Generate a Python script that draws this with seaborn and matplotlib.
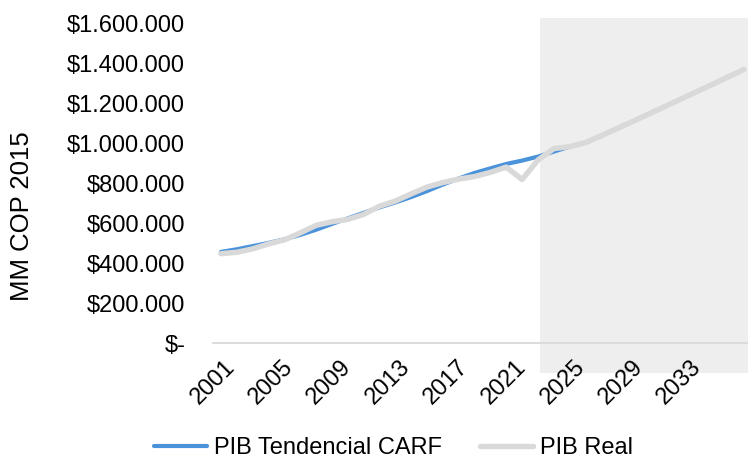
import matplotlib
matplotlib.use("Agg")
import matplotlib.pyplot as plt
import matplotlib.transforms as mtransforms
from matplotlib.patches import Rectangle
from matplotlib.ticker import FuncFormatter
from matplotlib.lines import Line2D
import seaborn as sns
import pandas as pd

years = list(range(2001, 2035))
pib_tendencial = [457, 470, 486, 502, 520, 542, 568, 597, 625, 653, 680, 705, 732,
                  762, 795, 825, 853, 876, 898, 915, 935, 960, 985, 1005, 1040, 1076,
                  1112, 1149, 1186, 1223, 1260, 1297, 1335, 1372]
pib_real = [448, 455, 472, 497, 517, 552, 590, 608, 620, 645, 686, 712, 748,
            782, 805, 822, 835, 856, 882, 820, 918, 975, 985, 1005, 1040, 1076,
            1112, 1149, 1186, 1223, 1260, 1297, 1335, 1372]
pib_tendencial = [v * 1000 for v in pib_tendencial]
pib_real = [v * 1000 for v in pib_real]
# category axis used for the labels (2001-2037)
label_years = list(range(2001, 2038))
tick_years = list(range(2001, 2034, 4))
proj_start = 2021.13
series_names = ["PIB Tendencial CARF", "PIB Real"]

sns.set_theme(style="white")
plt.rcParams["font.family"] = ["Liberation Sans", "DejaVu Sans"]
plt.rcParams["text.color"] = "black"

df = pd.DataFrame({
    "Año": years * 2,
    "Valor": pib_tendencial + pib_real,
    "Serie": [series_names[0]] * len(years) + [series_names[1]] * len(years),
})

fig = plt.figure(figsize=(7.48, 4.58), dpi=100)
W, H = 748, 458
ax = fig.add_axes([213 / W, (H - 343) / H, 539 / W, 319 / H])

palette = {series_names[0]: "#4A93DB", series_names[1]: "#D9D9D9"}
sizes = {series_names[0]: 3.0, series_names[1]: 3.9}
sns.lineplot(data=df, x="Año", y="Valor", hue="Serie", size="Serie",
             sizes=sizes, palette=palette, ax=ax, legend=False,
             solid_capstyle="round", zorder=3)

# shaded projection area
trans = mtransforms.blended_transform_factory(ax.transData, ax.transAxes)
ax.add_patch(Rectangle((proj_start, -0.094), 50, 1.113, transform=trans,
                       facecolor="#EEEEEE", edgecolor="none", clip_on=False, zorder=0))

ax.set_xlim(2000.5, 2034.5)
ax.set_ylim(0, 1600000)
ax.set_yticks(range(0, 1600001, 200000))

def fmt(v, pos):
    if v == 0:
        return "$-"
    return "$" + f"{int(v):,}".replace(",", ".")

ax.yaxis.set_major_formatter(FuncFormatter(fmt))
ax.set_xticks([])
ax.tick_params(axis="y", length=0, pad=20, labelsize=17, colors="black")

for s in ["top", "right", "left"]:
    ax.spines[s].set_visible(False)
ax.spines["bottom"].set_color("#D9D9D9")
ax.spines["bottom"].set_linewidth(1.3)
ax.spines["bottom"].set_zorder(1)
ax.set_facecolor("none")
ax.grid(False)
ax.set_xlabel("")
ax.set_ylabel("MM COP 2015", fontsize=18.5, color="black")
ax.yaxis.set_label_coords((34 - 213) / 539, 0.398)

# secondary category axis carrying the year labels
ax2 = ax.twiny()
ax2.set_xlim(label_years[0] - 0.75, label_years[-1] + 0.25)
ax2.xaxis.set_ticks_position("bottom")
ax2.xaxis.set_label_position("bottom")
ax2.set_xticks(tick_years)
ax2.set_xticklabels([str(y) for y in tick_years], rotation=45, ha="right",
                    va="top", rotation_mode="anchor")
ax2.tick_params(axis="x", length=0, pad=9, labelsize=17, colors="black")
for s in ax2.spines.values():
    s.set_visible(False)
ax2.grid(False)

handles = [Line2D([], [], color=palette[n], lw=sizes[n], solid_capstyle="round")
           for n in series_names]
fig.legend(handles, series_names, loc="center", bbox_to_anchor=(0.526, 0.022),
           ncol=2, frameon=False, fontsize=17, handlelength=2.25,
           handletextpad=0.3, columnspacing=1.6, labelcolor="black")

fig.savefig("out.png", dpi=100)
